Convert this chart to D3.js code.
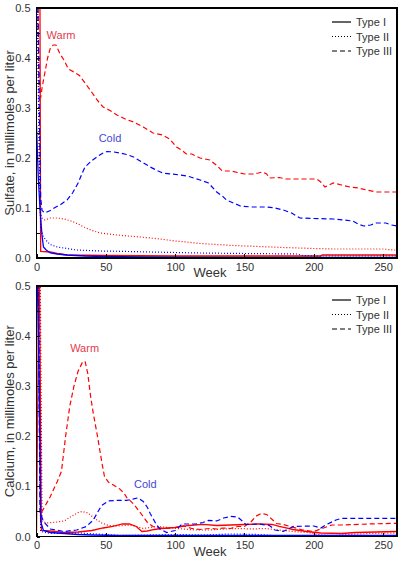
<!DOCTYPE html>
<html>
<head>
<meta charset="utf-8">
<script src="https://cdn.jsdelivr.net/npm/d3@7"></script>
<style>
  body { margin: 0; background: #fff; }
  text { font-family: Arial, "Liberation Sans", sans-serif; }
</style>
</head>
<body>
<div id="chart_area"></div>
<script>
// Sulfate (top panel), [week, millimoles per liter]
var sulfateWarmI = [[0,0.5],[2.5,0.5],[3,0.013],[10,0.012],[15,0.009],[22,0.006],[50,0.005],[100,0.004],[150,0.004],[205,0.004],[206,0.006],[260,0.006]];
var sulfateWarmII = [[1,0.5],[2,0.2],[3,0.09],[4,0.08],[6,0.076],[10,0.08],[15,0.08],[20,0.078],[25,0.074],[30,0.068],[34,0.062],[40,0.055],[46,0.05],[52,0.048],[58,0.046],[66,0.044],[75,0.042],[82,0.04],[89,0.038],[100,0.034],[108,0.032],[118,0.029],[130,0.027],[142,0.025],[160,0.023],[178,0.021],[200,0.019],[214,0.018],[250,0.018],[257,0.016],[260,0.016]];
var sulfateWarmIII = [[1,0.5],[2,0.36],[3,0.32],[4,0.34],[6,0.37],[8,0.4],[10,0.42],[12,0.426],[14,0.426],[17,0.408],[20,0.395],[23,0.378],[27,0.372],[31,0.365],[35,0.35],[39,0.335],[44,0.315],[48,0.302],[53,0.295],[58,0.286],[64,0.278],[70,0.272],[77,0.262],[84,0.25],[91,0.246],[96,0.238],[101,0.222],[105,0.215],[108,0.208],[112,0.208],[118,0.2],[125,0.196],[130,0.185],[134,0.174],[140,0.174],[145,0.171],[150,0.168],[156,0.168],[160,0.17],[163,0.172],[166,0.168],[168,0.16],[175,0.161],[180,0.158],[190,0.158],[202,0.158],[205,0.152],[208,0.142],[211,0.146],[214,0.15],[220,0.146],[226,0.142],[232,0.14],[238,0.136],[245,0.132],[260,0.132]];
var sulfateColdI = [[0,0.265],[1.3,0.16],[2.7,0.09],[4,0.045],[5,0.022],[7,0.016],[10,0.01],[15,0.008],[22,0.006],[35,0.004],[50,0.003],[75,0.002],[100,0.0015],[150,0.001],[260,0.001]];
var sulfateColdII = [[0.5,0.5],[2,0.2],[3,0.06],[5,0.042],[8,0.032],[10,0.027],[15,0.022],[22,0.019],[29,0.016],[46,0.014],[67,0.013],[82,0.012],[100,0.011],[118,0.01],[150,0.009],[188,0.008],[192,0.005],[202,0.004],[260,0.004]];
var sulfateColdIII = [[1,0.5],[2,0.3],[3,0.12],[4,0.095],[6,0.09],[10,0.095],[14,0.102],[17,0.106],[22,0.116],[26,0.13],[30,0.15],[33,0.17],[35,0.182],[40,0.195],[44,0.203],[48,0.21],[51,0.213],[56,0.212],[60,0.21],[65,0.207],[70,0.202],[76,0.192],[82,0.182],[87,0.175],[91,0.17],[97,0.168],[104,0.166],[110,0.163],[118,0.156],[124,0.15],[130,0.132],[134,0.124],[137,0.116],[142,0.11],[147,0.104],[155,0.102],[166,0.102],[172,0.1],[178,0.096],[184,0.09],[190,0.08],[200,0.079],[214,0.078],[222,0.076],[228,0.074],[232,0.068],[236,0.064],[241,0.066],[245,0.07],[252,0.07],[256,0.066],[260,0.064]];

// Calcium (bottom panel), [week, millimoles per liter]
var calciumWarmI = [[0,0.01],[2,0.6],[3.5,0.012],[10,0.011],[20,0.008],[30,0.009],[40,0.012],[48,0.017],[55,0.02],[62,0.025],[67,0.025],[72,0.02],[76,0.01],[80,0.011],[85,0.014],[90,0.016],[100,0.018],[110,0.022],[120,0.024],[130,0.022],[140,0.023],[150,0.024],[160,0.025],[170,0.024],[175,0.02],[180,0.017],[185,0.014],[195,0.01],[205,0.007],[220,0.006],[230,0.008],[245,0.009],[260,0.01]];
var calciumWarmII = [[2.5,0.6],[4,0.03],[7.5,0.027],[15,0.029],[20,0.031],[25,0.04],[30,0.048],[33,0.05],[37,0.047],[42,0.036],[47,0.027],[52,0.022],[60,0.021],[67,0.023],[72,0.02],[77,0.016],[82,0.018],[87,0.02],[95,0.018],[105,0.015],[115,0.013],[125,0.013],[135,0.015],[145,0.016],[155,0.015],[165,0.016],[175,0.013],[185,0.01],[195,0.008],[205,0.003],[215,0.002],[225,0.004],[240,0.006],[260,0.007]];
var calciumWarmIII = [[1.5,0.6],[3,0.045],[5,0.055],[10,0.08],[15,0.11],[18,0.13],[21,0.2],[24,0.26],[27,0.3],[30,0.33],[33,0.347],[35,0.35],[37,0.325],[39,0.28],[41,0.245],[44,0.2],[47,0.15],[49,0.12],[52,0.108],[56,0.102],[60,0.095],[63,0.087],[65,0.078],[70,0.065],[75,0.047],[80,0.028],[84,0.02],[89,0.017],[94,0.016],[100,0.018],[106,0.021],[112,0.016],[118,0.014],[125,0.016],[130,0.015],[135,0.017],[140,0.016],[145,0.02],[150,0.02],[155,0.03],[158,0.04],[162,0.046],[166,0.044],[170,0.034],[173,0.026],[178,0.024],[183,0.02],[192,0.013],[200,0.01],[207,0.017],[213,0.023],[220,0.023],[240,0.025],[255,0.026],[260,0.026]];
var calciumColdI = [[0,0.6],[2,0.3],[3,0.03],[5,0.012],[10,0.008],[20,0.006],[30,0.004],[40,0.003],[60,0.002],[100,0.002],[260,0.002]];
var calciumColdII = [[1,0.6],[3,0.01],[10,0.006],[30,0.007],[50,0.004],[60,0.002],[80,0.003],[100,0.004],[120,0.003],[140,0.005],[160,0.004],[175,0.001],[200,0.002],[260,0.002]];
var calciumColdIII = [[1,0.6],[2.5,0.05],[5,0.03],[10,0.015],[20,0.01],[29,0.013],[36,0.02],[41,0.033],[44,0.048],[47,0.062],[52,0.071],[58,0.072],[65,0.072],[70,0.075],[73,0.077],[77,0.07],[80,0.058],[82,0.046],[86,0.026],[89,0.015],[94,0.008],[100,0.012],[105,0.025],[115,0.025],[120,0.028],[124,0.032],[130,0.031],[135,0.037],[140,0.04],[145,0.039],[148,0.032],[151,0.024],[160,0.025],[168,0.022],[172,0.013],[178,0.01],[185,0.02],[200,0.021],[205,0.017],[210,0.025],[216,0.033],[220,0.036],[260,0.036]];

// tick labels and legend
var weekTicks = [0, 50, 100, 150, 200, 250];
var valueTicks = [0, 0.1, 0.2, 0.3, 0.4, 0.5];
var minorTicks = [0.05, 0.15, 0.25, 0.35, 0.45];
var legendLabels = ["Type I", "Type II", "Type III"];
var yTitles = ["Sulfate, in millimoles per liter", "Calcium, in millimoles per liter"];
// annotation anchors [week, value] per panel
var warmLabelAt = [[17.7, 0.439], [34.7, 0.369]];
var coldLabelAt = [[53, 0.233], [78.5, 0.096]];

var typeDash = {"Type I": null, "Type II": "1,2", "Type III": "5,3"};
var warmColor = "#ff0000", coldColor = "#0000ff";

var frame_width = 404, frame_height = 563;
var svg = d3.select("#chart_area").append("svg")
    .attr("width", frame_width)
    .attr("height", frame_height);

var xScale = d3.scaleLinear().domain([0, 260]).range([36.5, 397]);

var panels = [
  {top: 8, bottom: 258, title: yTitles[0], series: [
    [sulfateWarmI, warmColor, "Type I"], [sulfateWarmII, warmColor, "Type II"], [sulfateWarmIII, warmColor, "Type III"],
    [sulfateColdI, coldColor, "Type I"], [sulfateColdII, coldColor, "Type II"], [sulfateColdIII, coldColor, "Type III"]]},
  {top: 286, bottom: 536.5, title: yTitles[1], series: [
    [calciumWarmI, warmColor, "Type I"], [calciumWarmII, warmColor, "Type II"], [calciumWarmIII, warmColor, "Type III"],
    [calciumColdI, coldColor, "Type I"], [calciumColdII, coldColor, "Type II"], [calciumColdIII, coldColor, "Type III"]]}
];

panels.forEach(function(p, i) {
  var yScale = d3.scaleLinear().domain([0, 0.5]).range([p.bottom, p.top]);
  var g = svg.append("g");

  // clip so spikes above 0.5 stop at the frame
  g.append("clipPath").attr("id", "clip" + i)
    .append("rect")
    .attr("x", xScale(0)).attr("y", p.top - 1)
    .attr("width", xScale(260) - xScale(0)).attr("height", p.bottom - p.top + 1);

  var line = d3.line()
      .x(function(d) { return xScale(d[0]); })
      .y(function(d) { return yScale(d[1]); });

  var plot = g.append("g").attr("clip-path", "url(#clip" + i + ")");
  p.series.forEach(function(s) {
    plot.append("path")
      .datum(s[0])
      .attr("fill", "none")
      .attr("stroke", s[1])
      .attr("stroke-width", s[2] == "Type I" ? 1.3 : 1.2)
      .attr("stroke-dasharray", typeDash[s[2]])
      .attr("d", line);
  });

  // frame
  g.append("rect")
    .attr("x", xScale(0)).attr("y", p.top)
    .attr("width", xScale(260) - xScale(0)).attr("height", p.bottom - p.top)
    .attr("fill", "none").attr("stroke", "#000").attr("stroke-width", 1.2)
    .attr("shape-rendering", "crispEdges");

  // axes, ticks pointing inward
  var yAxis = d3.axisLeft(yScale).tickValues(valueTicks).tickFormat(d3.format(".1f"))
      .tickSize(-3).tickPadding(6);
  var yMinor = d3.axisLeft(yScale).tickValues(minorTicks).tickFormat("").tickSize(-3);
  var xAxis = d3.axisBottom(xScale).tickValues(weekTicks).tickSize(-4).tickPadding(5);

  var ya = g.append("g").attr("transform", "translate(" + xScale(0) + ",0)").call(yAxis);
  var ym = g.append("g").attr("transform", "translate(" + xScale(0) + ",0)").call(yMinor);
  var xa = g.append("g").attr("transform", "translate(0," + p.bottom + ")").call(xAxis);
  [ya, ym, xa].forEach(function(a) {
    a.select(".domain").remove();
    a.selectAll("line").attr("stroke", "#000").attr("shape-rendering", "crispEdges");
    a.selectAll("text").attr("font-size", 11).attr("fill", "#333")
      .attr("font-family", "Arial, 'Liberation Sans', sans-serif");
  });

  // titles
  g.append("text")
    .attr("transform", "translate(14," + (p.top + p.bottom) / 2 + ") rotate(-90)")
    .attr("text-anchor", "middle")
    .attr("font-size", 13).attr("fill", "#333")
    .text(p.title);
  g.append("text")
    .attr("x", 210).attr("y", p.bottom + 19)
    .attr("text-anchor", "middle")
    .attr("font-size", 13).attr("fill", "#333")
    .text("Week");

  // annotations
  g.append("text")
    .attr("x", xScale(warmLabelAt[i][0])).attr("y", yScale(warmLabelAt[i][1]))
    .attr("text-anchor", "middle").attr("font-size", 11).attr("fill", "#e33b4b")
    .text("Warm");
  g.append("text")
    .attr("x", xScale(coldLabelAt[i][0])).attr("y", yScale(coldLabelAt[i][1]))
    .attr("text-anchor", "middle").attr("font-size", 11).attr("fill", "#4646d6")
    .text("Cold");

  // legend
  var legend = g.append("g").attr("transform", "translate(332," + (p.top + 14) + ")");
  legendLabels.forEach(function(lab, j) {
    var row = legend.append("g").attr("transform", "translate(0," + (j * 14.5) + ")");
    row.append("line")
      .attr("x1", 0).attr("x2", 19).attr("y1", 0).attr("y2", 0)
      .attr("stroke", "#000").attr("stroke-width", 1.2)
      .attr("stroke-dasharray", typeDash[lab]);
    row.append("text")
      .attr("x", 24).attr("y", 4)
      .attr("font-size", 11).attr("fill", "#333")
      .text(lab);
  });
});
</script>
</body>
</html>
